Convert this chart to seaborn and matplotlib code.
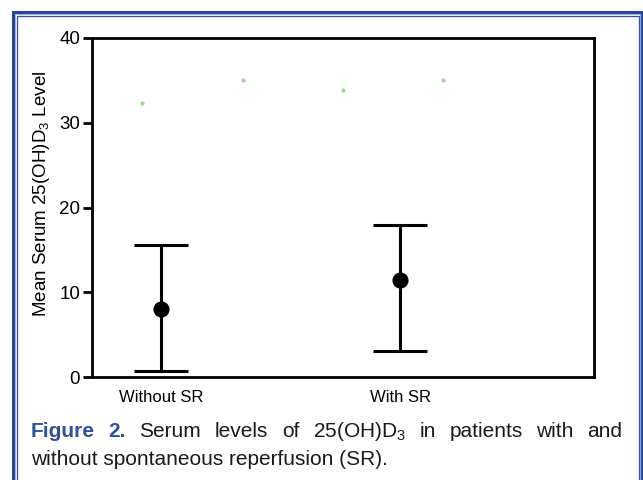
import matplotlib
matplotlib.use("Agg")
import matplotlib.pyplot as plt
import seaborn as sns
import pandas as pd
from matplotlib.patches import Rectangle

# data
groups = ["Without SR", "With SR"]
group_x = [0.69, 3.07]
means = [8.0, 11.4]
lower = [0.75, 3.1]
upper = [15.6, 17.9]

# faint green points near the top of the plot
dot_x = [0.5, 1.5, 2.5, 3.5]
dot_y = [32.3, 35.0, 33.9, 35.0]

y_ticks = [0, 10, 20, 30, 40]

sns.set_style("white")
plt.rcParams["font.family"] = ["Liberation Sans", "DejaVu Sans"]
plt.rcParams["mathtext.fontset"] = "custom"
plt.rcParams["mathtext.rm"] = "Liberation Sans"
plt.rcParams["text.color"] = "black"
plt.rcParams["axes.labelcolor"] = "black"
plt.rcParams["xtick.color"] = "black"
plt.rcParams["ytick.color"] = "black"

W, H = 643, 480
fig = plt.figure(figsize=(W / 100, H / 100), dpi=100)
fig.patch.set_facecolor("white")
ax = fig.add_axes([92 / W, 1 - 377 / H, (594 - 92) / W, (377 - 38) / H])

df = pd.DataFrame({"x": group_x, "mean": means, "lo": lower, "hi": upper})
dots = pd.DataFrame({"x": dot_x, "y": dot_y})

# error bars (range) + mean markers
ax.errorbar(df["x"], df["mean"],
            yerr=[df["mean"] - df["lo"], df["hi"] - df["mean"]],
            fmt="none", ecolor="black", elinewidth=2.2, capsize=19.5,
            capthick=2.2, zorder=2)
sns.scatterplot(data=df, x="x", y="mean", ax=ax, color="black", s=135,
                edgecolor="black", linewidth=0, zorder=3, legend=False)
sns.scatterplot(data=dots, x="x", y="y", ax=ax, color="#9fd495", s=9,
                linewidth=0, zorder=1, legend=False)

ax.set_xlim(0, 5)
ax.set_ylim(0, 40)
ax.set_yticks(y_ticks)
ax.set_xticks(group_x)
ax.set_xticklabels(groups, fontsize=12)
ax.tick_params(axis="x", length=0, pad=9)
ax.tick_params(axis="y", length=6.5, width=2, pad=2, labelsize=13.5, left=True)
for s in ax.spines.values():
    s.set_visible(True)
    s.set_linewidth(2)
    s.set_color("black")
ax.set_xlabel("")
ax.set_ylabel("Mean Serum 25(OH)D$_\\mathregular{3}$ Level", fontsize=13.5)
ax.yaxis.set_label_coords(-0.080, 0.541)

# blue double frame (open at the bottom)
def frame(inset_l, inset_r, inset_t, lw, col):
    r = Rectangle((inset_l / W, -0.1), (W - inset_r - inset_l) / W,
                  1.1 - inset_t / H, transform=fig.transFigure,
                  fill=False, edgecolor=col, linewidth=lw * 0.72)
    fig.patches.append(r)

frame(12.5, 1.6, 11.5, 3, "#2a4899")
frame(14.6, 3.3, 13.6, 1, "#a3b3dc")
frame(16.6, 4.3, 15.6, 1.3, "#3654a6")

# caption, first line justified
line1 = [("Figure", True), ("2.", True), ("Serum", False), ("levels", False),
         ("of", False), ("25(OH)D$_\\mathregular{3}$", False), ("in", False),
         ("patients", False), ("with", False), ("and", False)]
cap_size = 15
x_left, x_right = 31 / W, 622 / W
y1, y2 = 1 - 437 / H, 1 - 465 / H
texts = []
for word, bold in line1:
    t = fig.text(0, y1, word, fontsize=cap_size,
                 color="#2e4fa2" if bold else "#1a1a1a",
                 fontweight="bold" if bold else "normal",
                 ha="left", va="baseline")
    texts.append(t)
fig.canvas.draw()
rend = fig.canvas.get_renderer()
widths = [t.get_window_extent(rend).width / W for t in texts]
gap = (x_right - x_left - sum(widths)) / (len(texts) - 1)
x = x_left
for t, w in zip(texts, widths):
    t.set_x(x)
    x += w + gap
fig.text(x_left, y2, "without spontaneous reperfusion (SR).", fontsize=cap_size,
         color="#1a1a1a", ha="left", va="baseline")

fig.savefig("out.png", dpi=100)
